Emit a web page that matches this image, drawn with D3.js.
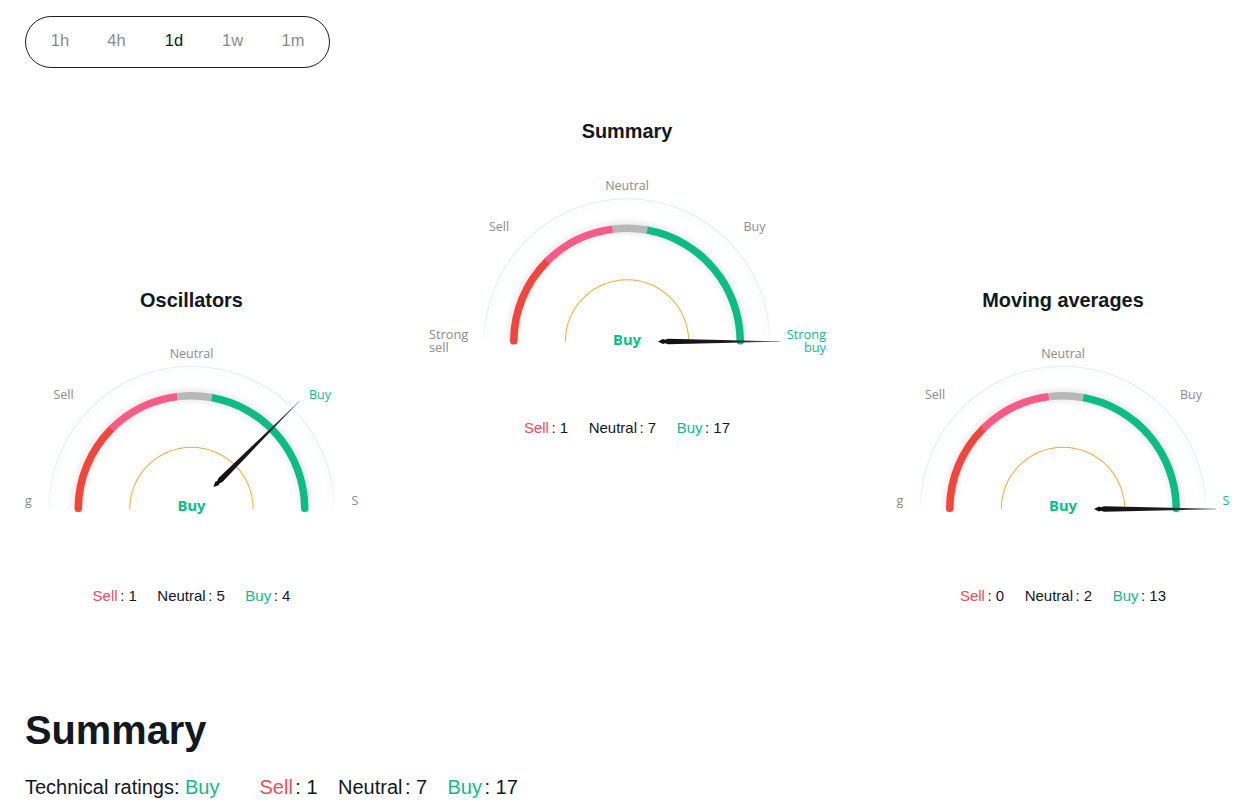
<!DOCTYPE html>
<html><head><meta charset="utf-8">
<script src="https://cdn.jsdelivr.net/npm/d3@7"></script>
<style>html,body{margin:0;padding:0;background:#fff}svg{display:block}</style>
</head><body><svg id="c" width="1260" height="810"></svg>
<script>
const intervals = ["1h","4h","1d","1w","1m"];
const activeInterval = "1d";
const gaugeTitles = ["Oscillators","Summary","Moving averages"];
const gaugeRatings = [0.5,1,1];
const gaugeVerdicts = ["Buy","Buy","Buy"];
const sellCounts = [1,1,0];
const neutralCounts = [5,7,2];
const buyCounts = [4,17,13];
const bandEdges = [-1,-0.5,-0.08,0.115,1];
const bandNames = ["strongSell","sell","neutral","buy"];
const countNames = ["Sell","Neutral","Buy"];
const summaryHeading = "Summary";
const summaryLead = "Technical ratings:";
const summaryVerdict = "Buy";
const summaryCounts = [1,7,17];

const RED="#f0463c",PINK="#f75c86",GRAY="#b8b8b8",GREEN="#0bbd85",TXTGREEN="#14b88b",TXTRED="#e9505a",LBL="#8c8c8c",INK="#131722";
const bandColors=[RED,PINK,GRAY,GREEN];
const sans="'Liberation Sans',Arial,sans-serif", ui="'Open Sans','Noto Sans',sans-serif";
const svg=d3.select("#c");
const defs=svg.append("defs");
const g1=defs.append("linearGradient").attr("id","rim").attr("x1",0).attr("x2",0).attr("y1",0).attr("y2",1);
g1.append("stop").attr("offset","0%").attr("stop-color","#e6edf2");
g1.append("stop").attr("offset","78%").attr("stop-color","#e6edf2");
g1.append("stop").attr("offset","100%").attr("stop-color","#f8fafb");
const g2=defs.append("linearGradient").attr("id","ndl").attr("x1",0).attr("x2",1).attr("y1",0).attr("y2",0);
g2.append("stop").attr("offset","0%").attr("stop-color","#111");
g2.append("stop").attr("offset","60%").attr("stop-color","#1c1c1c");
g2.append("stop").attr("offset","100%").attr("stop-color","#666");
defs.append("filter").attr("id","soft").attr("x","-10%").attr("y","-10%").attr("width","120%").attr("height","120%")
  .append("feGaussianBlur").attr("stdDeviation",2);

// interval pill
svg.append("rect").attr("x",25.5).attr("y",16.5).attr("width",304).attr("height",51).attr("rx",25.5)
  .attr("fill","#fff").attr("stroke","#1e1e1e");
const pillX=d3.scalePoint().domain(intervals).range([60,293]);
const pillNudge={"1h":0,"4h":-1.7,"1d":-2.5,"1w":-2.2,"1m":0};
svg.selectAll(".iv").data(intervals).join("text").attr("class","iv")
  .attr("x",d=>pillX(d)+pillNudge[d]).attr("y",45.5).attr("text-anchor","middle")
  .attr("font-family",sans).attr("font-size",16.5)
  .attr("fill",d=>d===activeInterval?"#131722":"#8a8a8a").text(d=>d);

// gauges
const layout=[{cx:191.5,cy:509,title:-202.5,verdict:3,count:91.5,lift:1},
              {cx:627,cy:341.5,title:-204,verdict:3.5,count:91,lift:0},
              {cx:1063,cy:509,title:-202.5,verdict:3,count:91.5,lift:1}];
const angle=d3.scaleLinear().domain([-1,1]).range([-Math.PI/2,Math.PI/2]);
const capExtra=0.027;
const sideLabels=[
 [{t:["g"],dx:-163,dy:-4,a:"middle",c:LBL},{t:["Sell"],dx:-128,dy:-111,a:"middle",c:LBL},{t:["Neutral"],dx:0,dy:-152,a:"middle",c:LBL},{t:["Buy"],dx:128.5,dy:-111,a:"middle",c:TXTGREEN},{t:["S"],dx:163.5,dy:-4,a:"middle",c:LBL}],
 [{t:["Strong","sell"],dx:-198,dy:-3,a:"start",c:LBL},{t:["Sell"],dx:-128,dy:-111,a:"middle",c:LBL},{t:["Neutral"],dx:0,dy:-152,a:"middle",c:LBL},{t:["Buy"],dx:127.5,dy:-111,a:"middle",c:LBL},{t:["Strong","buy"],dx:199,dy:-3,a:"end",c:TXTGREEN}],
 [{t:["g"],dx:-163,dy:-4,a:"middle",c:LBL},{t:["Sell"],dx:-128,dy:-111,a:"middle",c:LBL},{t:["Neutral"],dx:0,dy:-152,a:"middle",c:LBL},{t:["Buy"],dx:128,dy:-111,a:"middle",c:LBL},{t:["S"],dx:163,dy:-4,a:"middle",c:TXTGREEN}]
];
const needleShape=[[31,0],[36,-2.5],[38,-1.7],[41,-2.7],[153,-0.15],[153,0.15],[41,2.7],[38,1.7],[36,2.5]];

gaugeTitles.forEach((title,i)=>{
  const {cx,cy}=layout[i], L=layout[i];
  const root=svg.append("g").attr("transform",`translate(${cx},${cy})`);
  root.append("text").attr("x",0).attr("y",L.title).attr("text-anchor","middle")
    .attr("font-family",sans).attr("font-weight",700).attr("font-size",19.9).attr("fill",INK).text(title);
  // rim glow and rim
  root.append("path").attr("d",d3.arc()({innerRadius:137,outerRadius:142.5,startAngle:-Math.PI/2,endAngle:Math.PI/2}))
    .attr("fill","#f7f9fb").attr("opacity",0.5).attr("filter","url(#soft)");
  root.append("path").attr("d",d3.arc()({innerRadius:142.2,outerRadius:143.3,startAngle:-Math.PI/2,endAngle:Math.PI/2}))
    .attr("fill","url(#rim)");
  // halo
  root.append("path").attr("d",d3.arc()({innerRadius:107,outerRadius:120.5,startAngle:-Math.PI/2,endAngle:Math.PI/2}))
    .attr("fill","#e8e8e8").attr("opacity",0.75).attr("filter","url(#soft)");
  // bands: outer ones first so that the rounded joints sit below
  const order=[0,3,1,2];
  order.forEach(k=>{
    const a0=angle(bandEdges[k])-(k===0?capExtra:0.0), a1=angle(bandEdges[k+1])+(k===3?capExtra:0);
    const rounded=(k===0||k===3);
    root.append("path").attr("class","band "+bandNames[k])
      .attr("d",d3.arc().cornerRadius(rounded?3.6:0)({innerRadius:109.5,outerRadius:117,startAngle:a0-(k===3?0.03:0),endAngle:a1+(k===0?0.03:0)}))
      .attr("fill",bandColors[k]);
  });
  // orange arc
  root.append("path").attr("d",d3.arc()({innerRadius:61.2,outerRadius:62.2,startAngle:-Math.PI/2,endAngle:Math.PI/2}))
    .attr("fill","#f2a93b");
  // labels
  const labels=root.selectAll(".lb").data(sideLabels[i]).join("text").attr("class","lb")
    .attr("text-anchor",d=>d.a).attr("y",d=>d.dy+(Math.abs(d.dy)>50?L.lift:0))
    .attr("font-family",ui).attr("font-size",d=>d.t.length>1?12.8:12.5).attr("fill",d=>d.c);
  labels.each(function(d){
    d3.select(this).selectAll("tspan").data(d.t).join("tspan")
      .attr("x",d.dx).attr("dy",(s,j)=>j?13:0).text(s=>s);
  });
  root.append("text").attr("x",0).attr("y",L.verdict-(L.lift?1:0)).attr("text-anchor","middle")
    .attr("font-family","'Noto Sans',sans-serif").attr("font-weight",700).attr("font-size",14.8).attr("fill",GREEN).text(gaugeVerdicts[i]);
  // needle
  root.append("polygon").attr("points",needleShape.map(p=>p.join(",")).join(" "))
    .attr("fill","url(#ndl)")
    .attr("transform",`rotate(${angle(gaugeRatings[i])*180/Math.PI-90})`);
  // counts
  const t=root.append("text").attr("x",0).attr("y",L.count).attr("text-anchor","middle")
    .attr("font-family",sans).attr("font-size",15).attr("fill",INK);
  [sellCounts[i],neutralCounts[i],buyCounts[i]].forEach((v,k)=>{
    t.append("tspan").attr("dx",k?20.5:0).attr("fill",k===0?TXTRED:k===2?TXTGREEN:INK).text(countNames[k]);
    t.append("tspan").attr("dx",2.5).text(": "+v);
  });
});

// summary block
svg.append("text").attr("x",25).attr("y",744).attr("font-family",sans).attr("font-weight",700)
  .attr("font-size",39.8).attr("fill",INK).text(summaryHeading);
const row=svg.append("text").attr("y",794).attr("font-family",sans).attr("font-size",20).attr("fill",INK);
row.append("tspan").attr("x",25).text(summaryLead);
row.append("tspan").attr("x",185).attr("fill",TXTGREEN).text(summaryVerdict);
const rowX=d3.scaleOrdinal().domain(countNames).range([259.5,338,447.5]);
countNames.forEach((n,k)=>{
  row.append("tspan").attr("x",rowX(n)).attr("fill",k===0?TXTRED:k===2?TXTGREEN:INK).text(n);
  row.append("tspan").attr("dx",2.5).text(": "+summaryCounts[k]);
});
</script></body></html>
